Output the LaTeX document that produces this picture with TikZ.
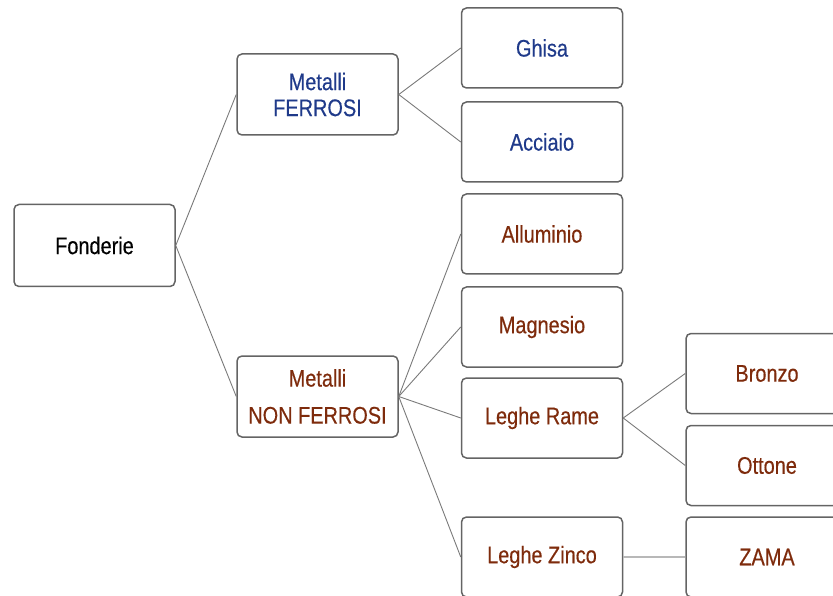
\documentclass[tikz,border=0pt]{standalone}
\usepackage{fontspec}
\setmainfont[FakeStretch=0.83,FakeBold=0.4]{Liberation Sans}
\definecolor{boxgray}{HTML}{646464}
\definecolor{linkgray}{HTML}{7A7A7A}
\definecolor{zlinkgray}{HTML}{B8B8B8}
\definecolor{ferblue}{HTML}{1F3A8A}
\definecolor{nferbrown}{HTML}{7E2B0C}
\begin{document}
\begin{tikzpicture}[x=1pt,y=-1pt,
  box/.style={draw=boxgray, line width=1.5pt, rounded corners=5pt,
    minimum width=161pt, minimum height=80pt, inner sep=0pt,
    font=\fontsize{24}{26}\selectfont, align=center},
  fe/.style={box, text=ferblue},
  nf/.style={box, text=nferbrown},
  link/.style={draw=linkgray, line width=0.9pt},
  zlink/.style={draw=zlinkgray, line width=1.8pt}]
\useasboundingbox (0,0) rectangle (833,596);
\clip (0,0) rectangle (833,596);
\node[box, text=black, minimum height=82pt] (fond) at (94.5,245.5) {Fonderie};
\node[fe, minimum height=81pt] (fer) at (317.5,94.5) {Metalli\\FERROSI};
\node[nf, minimum height=81pt] (nfer) at (317.5,396.5) {Metalli\\[11pt]NON FERROSI};
\node[fe] (ghisa) at (542,48) {Ghisa};
\node[fe] (acc) at (542,142) {Acciaio};
\node[nf] (allu) at (542,234) {Alluminio};
\node[nf] (magn) at (542,327) {Magnesio};
\node[nf] (rame) at (542,418) {Leghe Rame};
\node[nf] (zinco) at (542,557) {Leghe Zinco};
\node[nf, minimum width=162pt] (bronzo) at (767,373.5) {Bronzo};
\node[nf, minimum width=162pt] (ottone) at (767,465.5) {Ottone};
\node[nf, minimum width=162pt] (zama) at (767,557) {ZAMA};
\draw[link] (fond.east) -- (fer.west);
\draw[link] (fond.east) -- (nfer.west);
\draw[link] (fer.east) -- (ghisa.west);
\draw[link] (fer.east) -- (acc.west);
\draw[link] (nfer.east) -- (allu.west);
\draw[link] (nfer.east) -- (magn.west);
\draw[link] (nfer.east) -- (rame.west);
\draw[link] (nfer.east) -- (zinco.west);
\draw[link] (rame.east) -- (bronzo.west);
\draw[link] (rame.east) -- (ottone.west);
\draw[zlink] (zinco.east) -- (zama.west);
\end{tikzpicture}
\end{document}
